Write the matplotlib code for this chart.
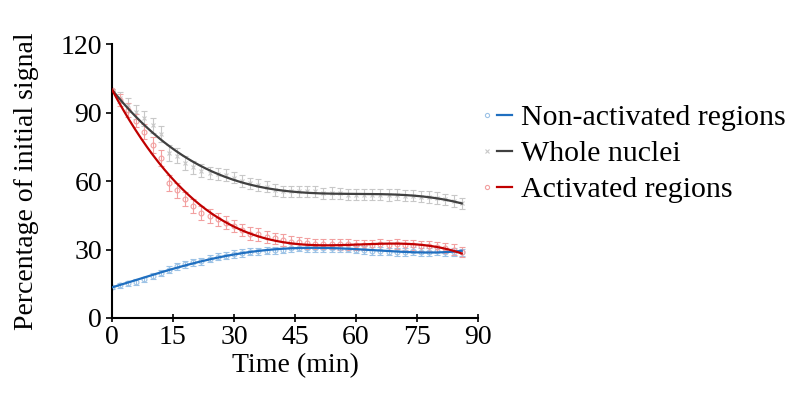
import numpy as np
import matplotlib.pyplot as plt
from matplotlib.lines import Line2D
from matplotlib.legend_handler import HandlerTuple

# sampling times (min)
time = [0, 2, 4, 6, 8, 10, 12, 14, 16, 18, 20, 22, 24, 26, 28, 30, 32, 34, 36, 38, 40, 42,
        44, 46, 48, 50, 52, 54, 56, 58, 60, 62, 64, 66, 68, 70, 72, 74, 76, 78, 80, 82, 84, 86]

# percentage of initial signal
non_activated = [13.4, 14.3, 15.2, 15.7, 16.9, 18.3, 19.6, 21.2, 22.6, 23.6, 24.4, 24.8, 26.0, 26.8,
                 27.3, 28.0, 28.5, 29.0, 29.2, 29.5, 29.7, 30.0, 30.6, 30.8, 30.8, 30.6, 30.8, 30.6,
                 30.5, 30.4, 30.0, 29.8, 29.5, 29.3, 29.1, 29.0, 28.9, 29.2, 29.0, 29.0, 29.3, 29.0,
                 29.0, 28.7]
whole_nuclei = [100.0, 96.5, 93.3, 90.4, 87.5, 84.5, 80.5, 72.5, 71.0, 68.0, 66.0, 64.5, 63.5, 63.0,
                62.5, 61.5, 60.0, 59.0, 58.3, 57.5, 56.0, 55.5, 55.5, 55.5, 55.5, 55.5, 54.6, 54.8,
                54.6, 54.0, 54.0, 54.0, 54.0, 54.0, 53.8, 54.0, 53.6, 53.6, 53.2, 53.0, 52.6, 52.0,
                51.2, 50.2]
activated = [100.0, 95.5, 91.0, 86.5, 81.6, 75.8, 70.0, 59.0, 56.0, 52.2, 49.0, 46.1, 44.7, 43.2,
             41.8, 40.3, 38.5, 37.0, 36.6, 35.6, 34.9, 34.2, 33.4, 33.1, 32.7, 32.4, 32.3, 32.3,
             32.2, 32.2, 32.0, 31.8, 31.8, 32.2, 32.0, 32.4, 32.0, 31.8, 31.5, 31.4, 31.0, 30.6,
             30.0, 28.8]

# standard errors
non_activated_err = [0.5, 1.0, 1.0, 1.2, 1.2, 1.3, 1.3, 1.5, 1.5, 1.5, 1.5, 1.5, 1.6, 1.6, 1.6,
                     1.6, 1.6, 1.6, 1.6, 1.6, 1.6, 1.6, 1.6, 1.6, 1.7, 1.7, 1.7, 1.7, 1.7, 1.7,
                     1.7, 1.7, 1.7, 1.7, 1.7, 1.7, 1.7, 1.7, 1.7, 1.7, 1.7, 1.7, 1.7, 1.7]
whole_nuclei_err = [0.5, 2.5, 3.0, 3.0, 3.2, 3.3, 3.5, 3.5, 3.3, 3.0, 3.0, 2.8, 2.8, 2.6, 2.6,
                    2.5, 2.5, 2.5, 2.5, 2.5, 2.5, 2.5, 2.5, 2.5, 2.5, 2.5, 2.5, 2.5, 2.5, 2.5,
                    2.5, 2.5, 2.5, 2.5, 2.5, 2.5, 2.5, 2.5, 2.5, 2.5, 2.5, 2.5, 2.5, 2.5]
activated_err = [0.5, 2.5, 3.0, 3.0, 3.2, 3.3, 3.5, 3.5, 3.3, 3.2, 3.0, 3.0, 3.0, 3.0, 2.8,
                 2.8, 2.8, 2.7, 2.7, 2.6, 2.5, 2.5, 2.5, 2.3, 2.3, 2.3, 2.2, 2.2, 2.2, 2.2,
                 2.2, 2.2, 2.2, 2.2, 2.2, 2.2, 2.2, 2.2, 2.2, 2.2, 2.2, 2.2, 2.2, 2.2]

labels = ['Non-activated regions', 'Whole nuclei', 'Activated regions']

plt.rcParams['font.family'] = ['Liberation Serif', 'DejaVu Serif']

series = [
    (non_activated, non_activated_err, '#1F6FC0', '#9DC3E6', 'o'),
    (whole_nuclei, whole_nuclei_err, '#404040', '#C8C8C8', 'x'),
    (activated, activated_err, '#C00000', '#F2A0A0', 'o'),
]

fig = plt.figure(figsize=(7.94, 3.94), dpi=100)
ax = fig.add_axes([0.141, 0.193, 0.461, 0.695])

t = np.array(time)
t_fine = np.linspace(t[0], t[-1], 300)
# pin the trend line to the first (normalised) point
weights = np.ones(len(t))
weights[0] = 10
handles = []
for vals, err, line_c, mark_c, mk in series:
    ax.errorbar(t, vals, yerr=err, fmt=mk, ms=3.5, mfc='none', mec=mark_c, mew=0.8,
                ecolor=mark_c, elinewidth=0.8, capsize=2, capthick=0.8, zorder=2)
    coef = np.polyfit(t, vals, 4, w=weights)
    ax.plot(t_fine, np.polyval(coef, t_fine), color=line_c, lw=1.6, zorder=3)
    h_mark = Line2D([], [], ls='none', marker=mk, ms=3, mfc='none', mec=mark_c, mew=0.8)
    h_line = Line2D([], [], color=line_c, lw=1.6)
    handles.append((h_mark, h_line))

ax.set_xlim(0, 90)
ax.set_ylim(0, 120)
ax.set_xticks([0, 15, 30, 45, 60, 75, 90])
ax.set_yticks([0, 30, 60, 90, 120])
ax.spines['top'].set_visible(False)
ax.spines['right'].set_visible(False)
for s in ['left', 'bottom']:
    ax.spines[s].set_linewidth(1.5)
ax.tick_params(axis='x', direction='inout', length=6, width=1.2, labelsize=20, pad=2)
ax.tick_params(axis='y', direction='out', length=4, width=1.2, labelsize=20, pad=3)
ax.set_xlabel('Time (min)', fontsize=20, labelpad=2)
ax.set_ylabel('Percentage of initial signal', fontsize=20, labelpad=16)

ax.legend(handles, labels, handler_map={tuple: HandlerTuple(ndivide=None, pad=0.1)},
          loc='upper left', bbox_to_anchor=(1.003, 0.78), frameon=False, fontsize=21.5,
          handlelength=1.1, handletextpad=0.3, labelspacing=0.3, borderaxespad=0.0,
          borderpad=0.0)

fig.savefig('out.png', dpi=100)
